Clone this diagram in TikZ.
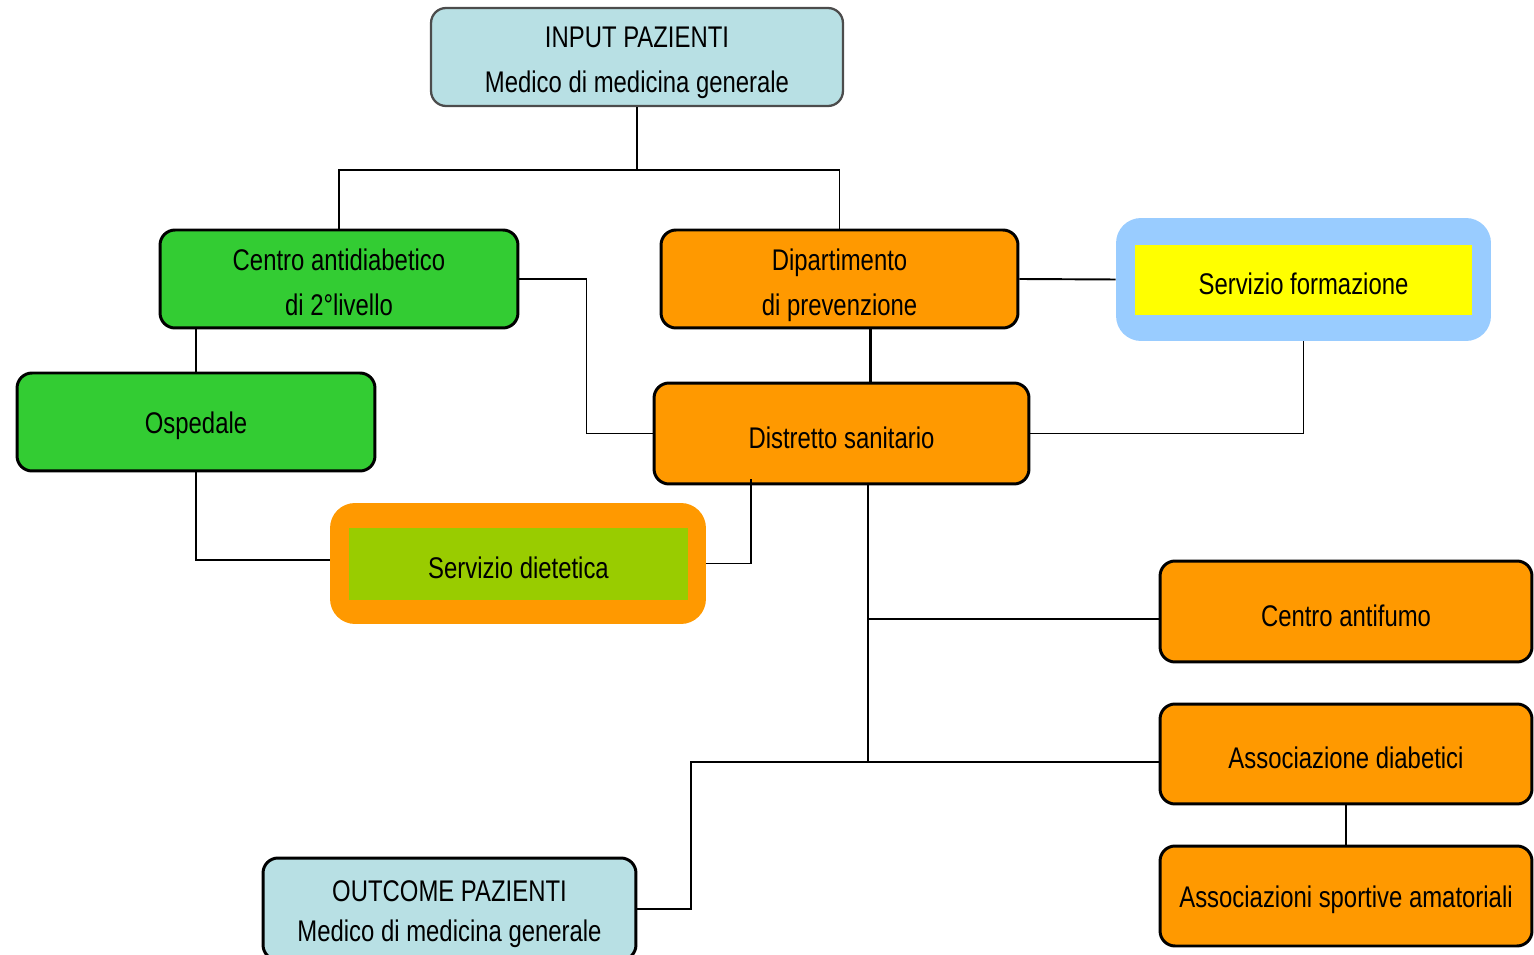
\documentclass[tikz,border=0pt]{standalone}
\usepackage{fontspec}
\setmainfont[FakeStretch=0.8]{Liberation Sans}
\definecolor{ltblue}{RGB}{184,224,228}
\definecolor{grn}{RGB}{51,204,51}
\definecolor{org}{RGB}{255,153,0}
\definecolor{skyb}{RGB}{153,204,255}
\definecolor{yel}{RGB}{255,255,0}
\definecolor{lime}{RGB}{153,204,0}
\tikzset{
  txt/.style={align=center, font=\fontsize{17}{25.5}\selectfont, inner sep=0pt,
    execute at begin node={\rule{0pt}{16.8pt}}},
  ttxt/.style={align=center, font=\fontsize{17}{25.5}\selectfont, inner sep=0pt},
  base/.style={txt, rounded corners=0.3cm},
  blk/.style={base, draw=black, line width=1.7pt},
  gbox/.style={blk, fill=grn, minimum width=7.16cm, minimum height=1.96cm},
  obox/.style={blk, fill=org, minimum width=7.44cm, minimum height=2.02cm},
  ibox/.style={base, fill=ltblue, minimum width=7.46cm, minimum height=2.0cm},
  frame/.style={rounded corners=0.5cm, inner sep=0pt},
  inner/.style={txt},
  conn/.style={line width=1.1pt, black},
}
\begin{document}
\begin{tikzpicture}[x=0.02cm, y=-0.02cm]
\useasboundingbox (0,0) rectangle (1534,955);
% nodes
\node[ibox, draw=black!70, line width=1.3pt, minimum width=8.24cm, minimum height=1.96cm] (in) at (637,57) {};
\node[ttxt] (inT) at ([yshift=-0.12cm]in.center) {INPUT PAZIENTI\\Medico di medicina generale};
\node[gbox] (cen) at (339,279) {};
\node[ttxt] (cenT) at ([yshift=-0.06cm]cen.center) {Centro antidiabetico\\di 2°livello};
\node[obox, minimum width=7.14cm, minimum height=1.96cm] (dip) at (839.5,279) {};
\node[ttxt] (dipT) at ([yshift=-0.12cm]dip.center) {Dipartimento\\di prevenzione};
\node[frame, fill=skyb, minimum width=7.5cm, minimum height=2.46cm] (form) at (1303.5,279.5) {};
\node[inner, fill=yel, minimum width=6.74cm, minimum height=1.4cm] (formi) at (1303.5,280) {Servizio formazione};
\node[gbox] (osp) at (196,422) {Ospedale};
\node[obox, minimum width=7.5cm] (dis) at (841.5,433.5) {Distretto sanitario};
\node[frame, fill=org, minimum width=7.52cm, minimum height=2.42cm] (die) at (518,563.5) {};
\node[inner, fill=lime, minimum width=6.78cm, minimum height=1.44cm] (diei) at (518.5,564) {Servizio dietetica};
\node[obox] (af) at (1346,611.5) {Centro antifumo};
\node[obox, minimum height=2.0cm] (ad) at (1346,754) {Associazione diabetici};
\node[obox, minimum height=2.0cm] (sp) at (1346,896) {Associazioni sportive amatoriali};
\node[ibox, draw=black, line width=1.7pt, minimum height=2.04cm] (out) at (449.5,909) {};
\node[ttxt] (outT) at ([yshift=-0.11cm]out.center) {OUTCOME PAZIENTI\\[-2.8pt]Medico di medicina generale};
% connectors
\coordinate (j1) at (637,170);
\coordinate (v) at (870,0);
\coordinate (w) at (751,0);
\coordinate (t) at (868,0);
\coordinate (afw) at ([yshift=-0.15cm]af.west);
\coordinate (adw) at ([yshift=-0.16cm]ad.west);
\draw[conn] (in.south) -- (j1) -| (cen.north);
\draw[conn] (j1) -| (dip.north);
\draw[conn] (cen.east) -- ++(67,0) |- (dis.west);
\draw[conn] (osp.north) -- (osp.north |- cen.south);
\draw[conn, line width=1.7pt] (dip.south -| v) -- (dis.north -| v);
\draw[conn] (dip.east) -- (form.west);
\draw[conn] (form.south) |- (dis.east);
\draw[conn] (osp.south) |- ([yshift=0.07cm]die.west);
\draw[conn] (die.east) -| ([yshift=0.12cm]dis.south -| w);
\draw[conn] (dis.south -| t) -- (t |- adw);
\draw[conn] (t |- afw) -- (afw);
\draw[conn] (t |- adw) -- (adw);
\draw[conn] (t |- adw) -- ++(-177,0) |- (out.east);
\draw[conn] (ad.south) -- (sp.north);
\end{tikzpicture}
\end{document}
